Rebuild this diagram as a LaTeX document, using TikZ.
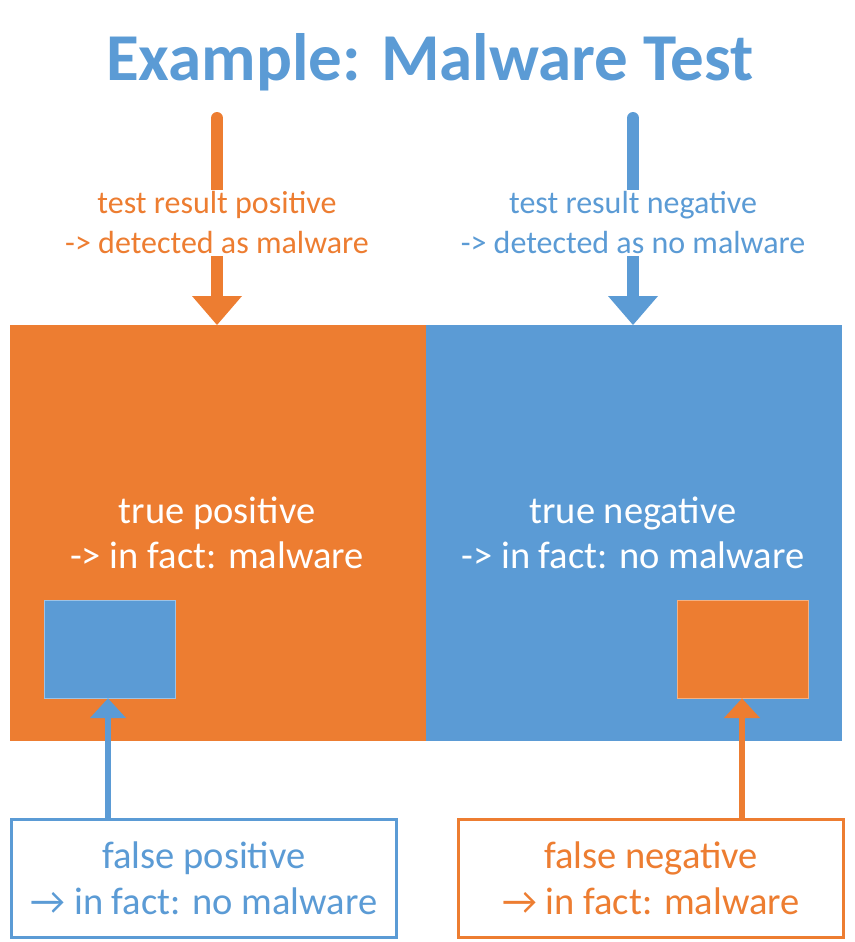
\documentclass[tikz,border=0pt]{standalone}
\usepackage{fontspec}
\setmainfont{Carlito}
\definecolor{org}{HTML}{ED7D31}
\definecolor{blu}{HTML}{5B9BD5}
\begin{document}
\begin{tikzpicture}[x=1pt,y=-1pt,
  lbl/.style={align=center,font=\fontsize{32}{40}\selectfont,fill=white,inner sep=2pt},
  big/.style={align=center,font=\fontsize{38.5}{45}\selectfont,text=white},
  bot/.style={draw,line width=3pt,fill=white,align=center,font=\fontsize{38.5}{46}\selectfont,minimum width=385,minimum height=118,anchor=north west}]
\useasboundingbox (0,0) rectangle (854,942);
\node[font=\fontsize{67}{70}\selectfont\bfseries,text=blu] (title) at (430,62) {Example: Malware Test};
\fill[org] (10,325) rectangle (426,741);
\fill[blu] (426,325) rectangle (842,741);
\node (tp) [big] at (217,533) {true positive\\-> in fact: malware};
\node (tn) [big] at (633,533) {true negative\\-> in fact: no malware};
\node (sb) [draw=blu!60!white,fill=blu,minimum width=131,minimum height=98,anchor=north west] at (44,600) {};
\node (so) [draw=org!60!white,fill=org,minimum width=131,minimum height=98,anchor=north west] at (677,600) {};
% top arrows
\coordinate (ot) at (217,118); \coordinate (oh) at (217,325);
\coordinate (bt) at (633,118); \coordinate (bh) at (633,325);
\draw[org,line width=12pt,line cap=round] (ot) -- (217,298);
\fill[org] (192,296) -- (242,296) -- (oh) -- cycle;
\draw[blu,line width=12pt,line cap=round] (bt) -- (633,298);
\fill[blu] (608,296) -- (658,296) -- (bh) -- cycle;
\node (lp) [lbl,text=org] at (217,223) {test result positive\\-> detected as malware};
\node (ln) [lbl,text=blu] at (633,223) {test result negative\\-> detected as no malware};
% bottom boxes
\node (fp) [bot,draw=blu,text=blu] at (10,818) {false positive\\→ in fact: no malware};
\node (fn) [bot,draw=org,text=org] at (457,818) {false negative\\→ in fact: malware};
\draw[blu,line width=6pt] (fp.north -| 108,0) -- (108,718);
\fill[blu] (90,718) -- (126,718) -- (sb.south -| 108,0) -- cycle;
\draw[org,line width=6pt] (fn.north -| 742,0) -- (742,718);
\fill[org] (724,718) -- (760,718) -- (so.south -| 742,0) -- cycle;
\end{tikzpicture}
\end{document}
